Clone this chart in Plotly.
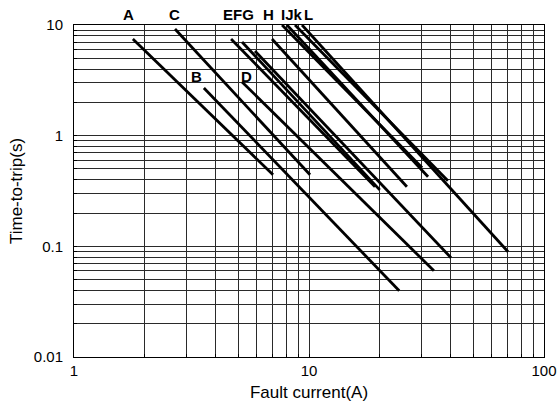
import math
import plotly.graph_objects as go

# ---- data (current A, time s) ----
curve_names = ["A", "B", "C", "D", "E", "F", "G", "H", "I", "J", "k", "L"]
i_start = [1.78, 3.57, 2.69, 5.19, 4.66, 5.19, 5.89, 6.96, 7.68, 8.06, 8.72, 9.34]
t_start = [7.48, 2.70, 9.20, 3.06, 7.48, 7.03, 5.82, 7.48, 10.0, 10.0, 10.0, 10.0]
i_end = [7.03, 24.2, 10.1, 34.0, 19.1, 20.0, 40.2, 26.1, 30.3, 32.1, 39.0, 70.3]
t_end = [0.443, 0.0397, 0.443, 0.0602, 0.345, 0.324, 0.0789, 0.345, 0.512, 0.425, 0.391, 0.0894]

top_labels = ["A", "C", "EFG", "H", "IJk", "L"]
top_label_i = [1.70, 2.67, 5.00, 6.71, 8.44, 9.93]
inner_labels = ["B", "D"]
inner_label_i = [3.33, 5.43]
inner_label_t = [3.42, 3.42]

x_major = [1, 10, 100]
y_major = [0.01, 0.1, 1, 10]
y_major_text = ["0.01", "0.1", "1", "10"]

FONT = "Liberation Sans, Arial"

fig = go.Figure()
for n, xs, ys, xe, ye in zip(curve_names, i_start, t_start, i_end, t_end):
    fig.add_trace(go.Scatter(x=[xs, xe], y=[ys, ye], mode="lines", name=n,
                             line=dict(color="black", width=2.8), showlegend=False,
                             hoverinfo="skip"))

xticks = []
for d in [1, 10]:
    xticks += [d * k for k in range(1, 10)]
xticks.append(100)
xtext = [str(v) if v in x_major else "" for v in xticks]
yticks = []
for d in [0.01, 0.1, 1]:
    yticks += [d * k for k in range(1, 10)]
yticks.append(10)
ytext = []
for v in yticks:
    lab = ""
    for mv, mt in zip(y_major, y_major_text):
        if abs(v - mv) < 1e-9:
            lab = mt
    ytext.append(lab)

ann = []
for t, xv in zip(top_labels, top_label_i):
    ann.append(dict(x=math.log10(xv), y=1.0, xref="x", yref="paper", yshift=11,
                    text="<b>" + t + "</b>", showarrow=False, yanchor="middle",
                    font=dict(size=15, color="black", family=FONT)))
for t, xv, yv in zip(inner_labels, inner_label_i, inner_label_t):
    ann.append(dict(x=math.log10(xv), y=math.log10(yv), xref="x", yref="y",
                    text="<b>" + t + "</b>", showarrow=False,
                    font=dict(size=15, color="black", family=FONT)))

grid_col = "#2a2a2a"
fig.update_layout(
    width=558, height=410,
    margin=dict(l=74, r=14, t=25, b=53),
    paper_bgcolor="white", plot_bgcolor="white",
    font=dict(family=FONT, size=15, color="black"),
    annotations=ann,
    xaxis=dict(type="log", range=[0, 2], tickvals=xticks, ticktext=xtext,
               automargin=False,
               showgrid=True, gridcolor=grid_col, gridwidth=1,
               showline=True, linecolor="black", linewidth=1, mirror=True,
               ticks="inside", ticklen=3, tickcolor="black",
               zeroline=False, tickfont=dict(size=15),
               title=dict(text="Fault current(A)", standoff=8,
                          font=dict(size=17, family=FONT))),
    yaxis=dict(type="log", range=[-2, 1], tickvals=yticks, ticktext=ytext,
               automargin=False, ticklabelstandoff=7,
               showgrid=True, gridcolor=grid_col, gridwidth=1,
               showline=True, linecolor="black", linewidth=1, mirror=True,
               ticks="inside", ticklen=3, tickcolor="black",
               zeroline=False, tickfont=dict(size=15),
               title=dict(text="Time-to-trip(s)", standoff=6,
                          font=dict(size=17, family=FONT))),
)

fig.write_html("out.html", config={"displayModeBar": False},
               post_script="document.body.style.margin='0';")
